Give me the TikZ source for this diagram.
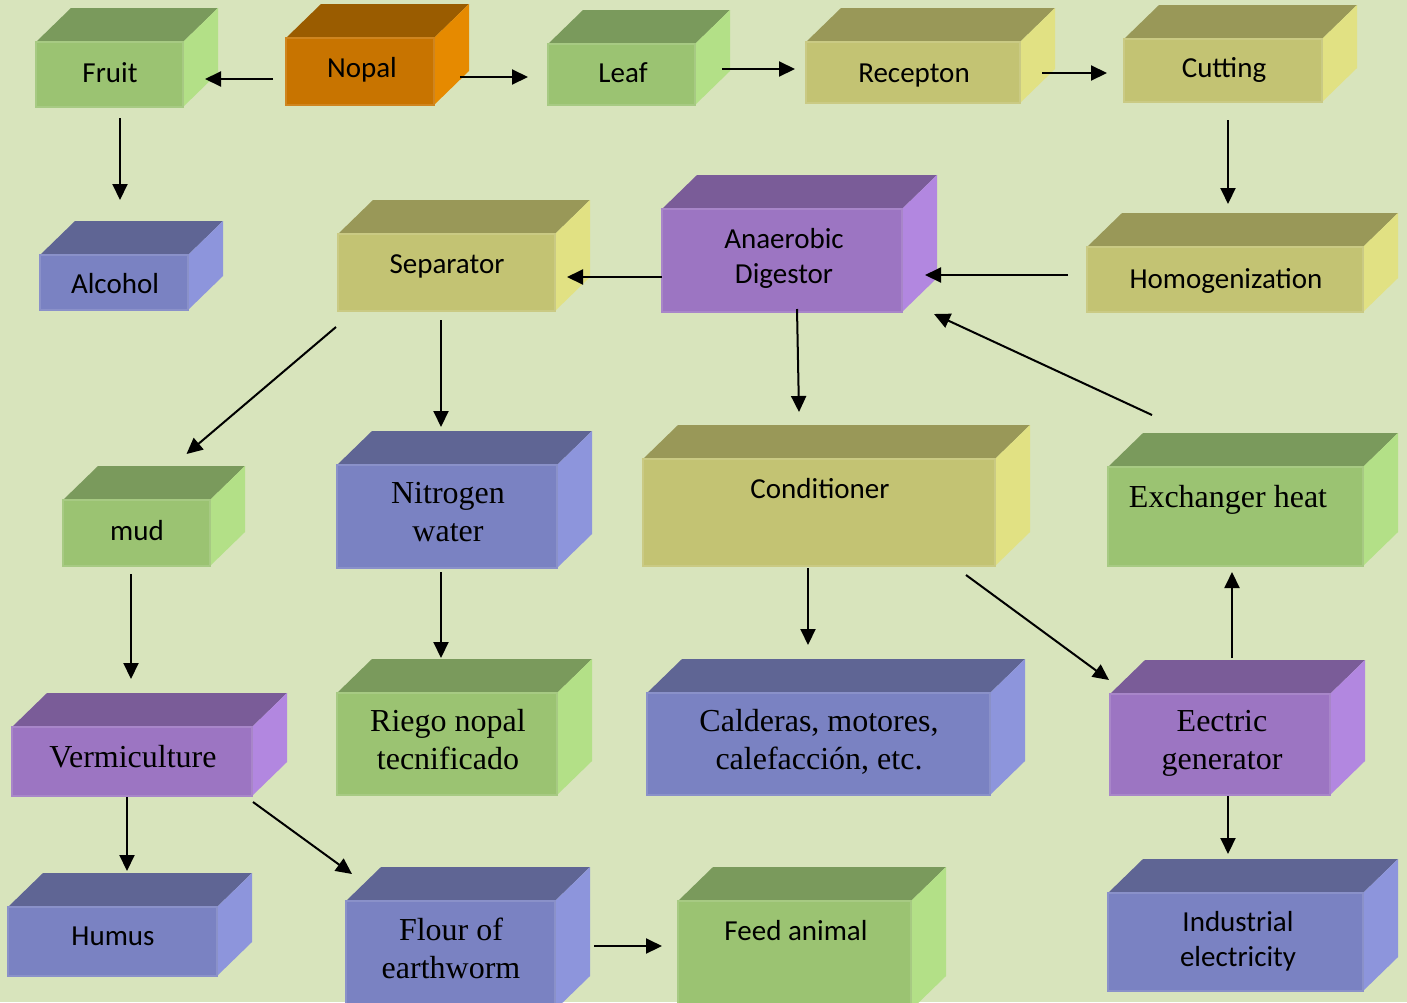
\documentclass[tikz,border=0pt]{standalone}
\usepackage{fontspec}
\setmainfont{Liberation Serif}
\newfontfamily\calfont{Carlito}
\usetikzlibrary{arrows.meta,calc}
\definecolor{bg}{HTML}{D8E4BC}
\definecolor{grF}{HTML}{9BC372}\definecolor{grT}{HTML}{7A9A5C}\definecolor{grS}{HTML}{B3E087}
\definecolor{orF}{HTML}{C87400}\definecolor{orT}{HTML}{9A5C00}\definecolor{orS}{HTML}{E68A00}
\definecolor{olF}{HTML}{C3C373}\definecolor{olT}{HTML}{999858}\definecolor{olS}{HTML}{E1E183}
\definecolor{puF}{HTML}{9C75C2}\definecolor{puT}{HTML}{7A5C98}\definecolor{puS}{HTML}{B287E0}
\definecolor{blF}{HTML}{7A82C2}\definecolor{blT}{HTML}{5F6594}\definecolor{blS}{HTML}{8D95DC}
\tikzset{
  arr/.style={line width=2pt,-{Triangle[length=16pt,width=15pt]}},
  cal/.style={font=\calfont\fontsize{29}{35}\selectfont,align=center,anchor=base,inner sep=0pt},
  tms/.style={font=\fontsize{32}{37.5}\selectfont,align=center,anchor=base,inner sep=0pt},
  frontface/.style={inner sep=0pt,outer sep=0pt,anchor=north west,line width=1.2pt},
}
\newcommand\cubebox[6]{%
  \fill[#6T] (#2,#3) -- (#2+35,#3-34) -- (#4+35,#3-34) -- (#4,#3) -- cycle;
  \fill[#6S] (#4,#3) -- (#4+35,#3-34) -- (#4+35,#5-34) -- (#4,#5) -- cycle;
  \node[frontface,fill=#6F,draw=#6F!88!white,minimum width={(#4-#2)*1pt},minimum height={(#5-#3)*1pt}] (#1) at (#2,#3) {};
}
\begin{document}
\begin{tikzpicture}[x=1pt,y=-1pt]
\useasboundingbox (0,0) rectangle (1407,1002);
\clip (0,0) rectangle (1407,1002);
\fill[bg] (0,0) rectangle (1407,1002);
% boxes
\cubebox{fruit}{36}{42}{183}{107}{gr}
\cubebox{nopal}{286}{38}{434}{105}{or}
\cubebox{leaf}{548}{44}{695}{105}{gr}
\cubebox{recepton}{806}{42}{1020}{103}{ol}
\cubebox{cutting}{1124}{39}{1322}{102}{ol}
\cubebox{alcohol}{40}{255}{188}{310}{bl}
\cubebox{separator}{338}{234}{555}{311}{ol}
\cubebox{anaerobic}{662}{209}{902}{312}{pu}
\cubebox{homog}{1087}{247}{1363}{312}{ol}
\cubebox{mud}{63}{500}{210}{566}{gr}
\cubebox{nitrogen}{337}{465}{557}{568}{bl}
\cubebox{conditioner}{643}{459}{995}{566}{ol}
\cubebox{exchanger}{1108}{467}{1363}{566}{gr}
\cubebox{vermi}{12}{727}{252}{796}{pu}
\cubebox{riego}{337}{693}{557}{795}{gr}
\cubebox{calderas}{647}{693}{990}{795}{bl}
\cubebox{electric}{1110}{694}{1330}{795}{pu}
\cubebox{humus}{8}{907}{217}{976}{bl}
\cubebox{flour}{346}{901}{555}{1010}{bl}
\cubebox{feed}{678}{901}{911}{1010}{gr}
\cubebox{industrial}{1108}{893}{1363}{991}{bl}
% labels
\node[cal] (t-fruit) at (110,82) {Fruit};
\node[cal] (t-nopal) at (362,77) {Nopal};
\node[cal] (t-leaf) at (623,82) {Leaf};
\node[cal] (t-recepton) at (914,82) {Recepton};
\node[cal] (t-cutting) at (1224,77) {Cutting};
\node[cal] (t-alcohol) at (115,293) {Alcohol};
\node[cal] (t-separator) at (447,273) {Separator};
\node[cal] (t-anaerobic) at (784,283) {Anaerobic\\Digestor};
\node[cal] (t-homog) at (1226,288) {Homogenization};
\node[cal] (t-mud) at (137,540) {mud};
\node[tms] (t-nitrogen) at (448,541) {Nitrogen\\water};
\node[cal] (t-conditioner) at (820,498) {Conditioner};
\node[tms] (t-exchanger) at (1228,507) {Exchanger heat};
\node[tms] (t-vermi) at (133,767) {Vermiculture};
\node[tms] (t-riego) at (448,769) {Riego nopal\\tecnificado};
\node[tms] (t-calderas) at (819,769) {Calderas, motores,\\calefacción, etc.};
\node[tms] (t-electric) at (1222,769) {Eectric\\generator};
\node[cal] (t-humus) at (113,945) {Humus};
\node[tms] (t-flour) at (451,978) {Flour of\\earthworm};
\node[cal] (t-feed) at (796,940) {Feed animal};
\node[cal] (t-industrial) at (1238,966) {Industrial\\electricity};
% connectors
\draw[arr] ([shift={(-13,7.5)}]nopal.west) -- ([shift={(22,4.5)}]fruit.east);
\draw[arr] ([shift={(10.5,11)}]fruit.south) -- ([shift={(6,-55)}]alcohol.north);
\draw[arr] ([shift={(26,5.5)}]nopal.east) -- ([shift={(-20,2.5)}]leaf.west);
\draw[arr] ([shift={(27,-5.5)}]leaf.east) -- ([shift={(-11,-3.5)}]recepton.west);
\draw[arr] ([shift={(22,0.5)}]recepton.east) -- ([shift={(-17,2.5)}]cutting.west);
\draw[arr] ([shift={(5,18)}]cutting.south) -- ([shift={(3,-43)}]homog.north);
\draw[arr] ([shift={(-19,-4.5)}]homog.west) -- ([shift={(23,14.5)}]anaerobic.east);
\draw[arr] ([shift={(0,16.5)}]anaerobic.west) -- ([shift={(12,4.5)}]separator.east);
\draw[arr] ([shift={(15,-3)}]anaerobic.south) -- ([shift={(-20,-47)}]conditioner.north);
\draw[arr] ([shift={(44,-52)}]exchanger.north west) -- ([shift={(32,2)}]anaerobic.south east);
\draw[arr] ([shift={(-2,16)}]separator.south west) -- ([shift={(50,-46)}]mud.north);
\draw[arr] ([shift={(-5.5,9)}]separator.south) -- ([shift={(-6,-38)}]nitrogen.north);
\draw[arr] ([shift={(-6,4)}]nitrogen.south) -- ([shift={(-6,-35)}]riego.north);
\draw[arr] ([shift={(-5.5,8)}]mud.south) -- ([shift={(-1,-48)}]vermi.north);
\draw[arr] ([shift={(-11,2)}]conditioner.south) -- ([shift={(-10.5,-48)}]calderas.north);
\draw[arr] ([shift={(-29,9)}]conditioner.south east) -- ([shift={(-1,-14)}]electric.north west);
\draw[arr] ([shift={(12,-36)}]electric.north) -- ([shift={(-3.5,6)}]exchanger.south);
\draw[arr] ([shift={(8,1)}]electric.south) -- ([shift={(-7.5,-39)}]industrial.north);
\draw[arr] ([shift={(-5,1)}]vermi.south) -- ([shift={(14.5,-36)}]humus.north);
\draw[arr] ([shift={(1,6)}]vermi.south east) -- ([shift={(6,-27)}]flour.north west);
\draw[arr] ([shift={(39,-9.5)}]flour.east) -- ([shift={(-16,-9.5)}]feed.west);
\end{tikzpicture}
\end{document}
